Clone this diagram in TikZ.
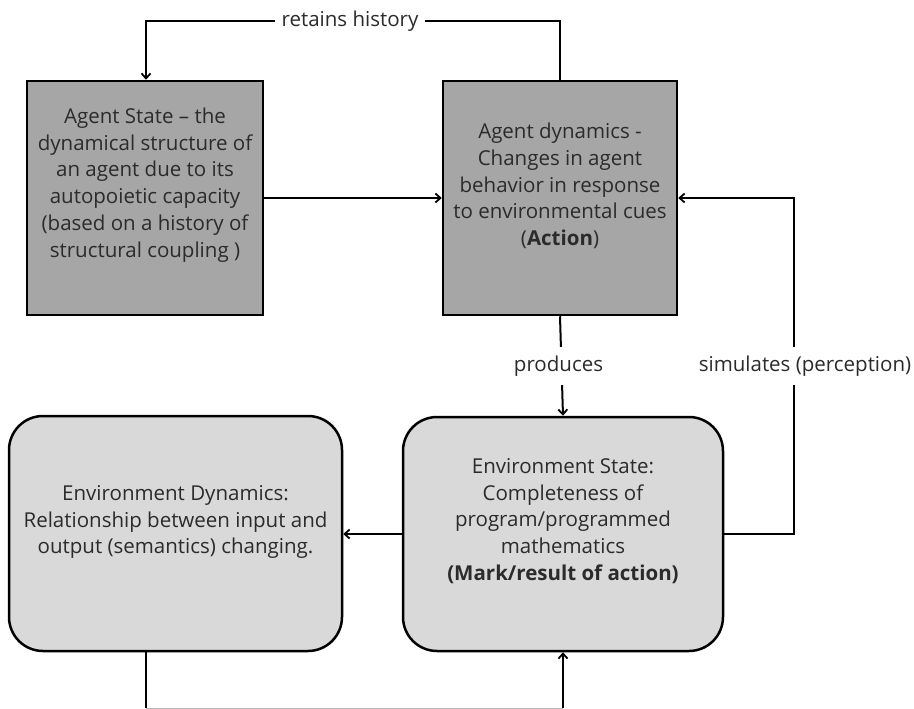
\documentclass[tikz,border=0pt]{standalone}
\usepackage{fontspec}
\setmainfont{Open Sans}
\usetikzlibrary{arrows.meta}
\definecolor{agentfill}{HTML}{A6A6A6}
\definecolor{envfill}{HTML}{D9D9D9}
\definecolor{inktext}{HTML}{2B2B2B}
\begin{document}
\begin{tikzpicture}[x=1pt,y=-1pt,
  agentbox/.style={draw=black,line width=2.5pt,fill=agentfill,inner sep=0pt},
  envbox/.style={draw=black,line width=2.5pt,fill=envfill,rounded corners=34pt,inner sep=0pt},
  boxtext/.style={align=center,text=inktext,font=\fontsize{20.5}{26.8}\selectfont,inner sep=0pt},
  flow/.style={line width=2pt,-{Straight Barb[length=5pt,width=9pt,line width=1.8pt]}},
  link/.style={line width=2pt},
  tag/.style={fill=white,text=inktext,font=\fontsize{20.5}{22}\selectfont,inner xsep=7pt,inner ysep=9pt}
]
\useasboundingbox (0,0) rectangle (914,709);

% boxes
\node[agentbox,minimum width=236pt,minimum height=234pt] (as) at (145,198) {};
\node[agentbox,minimum width=234pt,minimum height=234pt] (ad) at (560,198) {};
\node[envbox,minimum width=320pt,minimum height=234pt] (es) at (563,534) {};
\node[envbox,minimum width=333pt,minimum height=235pt] (ed) at (175.5,533.5) {};

% box texts
\node[boxtext] (astext) at (145,185) {Agent State – the\\dynamical structure of\\an agent due to its\\autopoietic capacity\\(based on a history of\\structural coupling )};
\node[boxtext] (adtext) at (560,186) {Agent dynamics -\\Changes in agent\\behavior in response\\to environmental cues\\(\textbf{Action})};
\node[boxtext] (estext) at (563,521) {Environment State:\\Completeness of\\program/programmed\\mathematics\\\textbf{(Mark/result of action)}};
\node[boxtext] (edtext) at (175.5,522) {Environment Dynamics:\\Relationship between input and\\output (semantics) changing.};

% routing points
\coordinate (t1) at (560,21);
\coordinate (t2) at (146,21);
\coordinate (r1) at (794,534);
\coordinate (r2) at (794,198);
\coordinate (b1) at (146,708);
\coordinate (b2) at (563,708);

% connectors
\draw[flow] (ad.north) -- (t1) -- node[tag,pos=0.5,xshift=-3pt]{retains history} (t2) -- (as.north -| t2);
\draw[flow] (as.east) -- (ad.west);
\draw[flow] (ad.south) -- node[tag,xshift=-3pt]{produces} (es.north);
\draw[flow] (es.east) -- (r1) -- node[tag,xshift=11pt]{simulates (perception)} (r2) -- (ad.east);
\draw[flow] (es.west) -- (ed.east |- es.west);
\draw[link] (ed.south -| b1) -- (b1);
\draw[flow] (b2) -- (es.south);
\draw[gray!55,line width=1pt] (b1) -- (b2);
\end{tikzpicture}
\end{document}
